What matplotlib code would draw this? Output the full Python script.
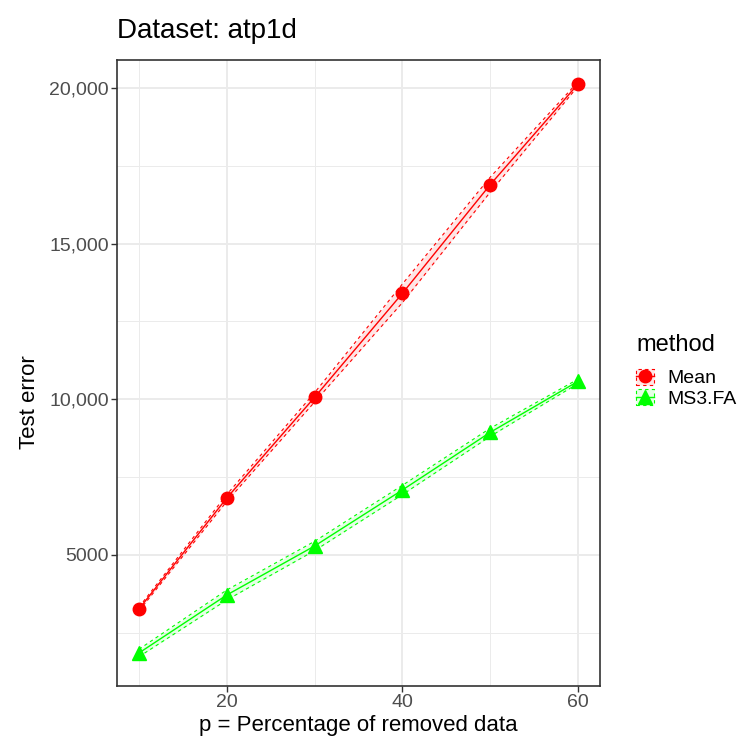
import matplotlib
matplotlib.use("Agg")
import matplotlib.pyplot as plt
from matplotlib.lines import Line2D
from matplotlib.patches import Patch
from matplotlib.ticker import FixedLocator, FuncFormatter
import numpy as np

plt.rcParams['font.family'] = ['Liberation Sans', 'DejaVu Sans']

# Data
p_removed = [10, 20, 30, 40, 50, 60]
mean_err = [3265, 6831, 10064, 13405, 16895, 20128]
mean_sd = [60, 110, 150, 300, 240, 70]
ms3_err = [1852, 3715, 5289, 7088, 8940, 10578]
ms3_sd = [120, 160, 150, 150, 130, 70]
y_ticks = [5000, 10000, 15000, 20000]
y_tick_labels = ['5000', '10,000', '15,000', '20,000']

methods = [
    ('Mean', mean_err, mean_sd, '#FF0000', 'o', 9),
    ('MS3.FA', ms3_err, ms3_sd, '#00FF00', '^', 10),
]

fig = plt.figure(figsize=(7.4, 7.46), dpi=100)
ax = fig.add_axes([117/740, 1 - 686/746, (600-117)/740, (686-60)/746])

x = np.array(p_removed)
handles = []
for name, vals, sd, col, mk, ms in methods:
    vals = np.array(vals)
    sd = np.array(sd)
    ax.fill_between(x, vals - sd, vals + sd, color=col, alpha=0.1, lw=0, zorder=2)
    ax.plot(x, vals - sd, color=col, lw=0.8, ls=(0, (3, 3)), zorder=3)
    ax.plot(x, vals + sd, color=col, lw=0.8, ls=(0, (3, 3)), zorder=3)
    ax.plot(x, vals, color=col, lw=1.0, zorder=4)
    ax.plot(x, vals, ls='none', marker=mk, ms=ms, color=col, mec=col, zorder=5)
    handles.append((Patch(facecolor=matplotlib.colors.to_rgba(col, 0.1),
                          edgecolor=col, ls=(0, (3, 3)), lw=0.8),
                    Line2D([], [], color=col, marker=mk, ms=ms, lw=1.0)))

ax.set_xlim(7.5, 62.5)
ax.set_ylim(792, 20899)

ax.xaxis.set_major_locator(FixedLocator([20, 40, 60]))
ax.xaxis.set_minor_locator(FixedLocator([10, 30, 50]))
ax.yaxis.set_major_locator(FixedLocator(y_ticks))
ax.yaxis.set_minor_locator(FixedLocator([2500, 7500, 12500, 17500]))
ax.yaxis.set_major_formatter(FuncFormatter(lambda v, pos: y_tick_labels[y_ticks.index(int(v))] if int(v) in y_ticks else ''))

ax.grid(which='major', color='#EBEBEB', lw=1.4, zorder=0)
ax.grid(which='minor', color='#EBEBEB', lw=0.7, zorder=0)
ax.set_axisbelow(True)
ax.tick_params(which='major', length=4, width=1, color='#333333',
               labelcolor='#4D4D4D', labelsize=14, pad=2)
ax.tick_params(which='minor', length=0)
for s in ax.spines.values():
    s.set_color('#333333')
    s.set_linewidth(1.2)

ax.set_xlabel('p = Percentage of removed data', fontsize=16, labelpad=3)
ax.set_ylabel('Test error', fontsize=16)
ax.yaxis.set_label_coords((40 - 117) / 483, (686 - 402) / 626)
ax.set_title('Dataset: atp1d', fontsize=20, loc='left', pad=16)

leg = fig.legend(handles, [m[0] for m in methods], title='method',
                 loc='upper left', bbox_to_anchor=(636/740, 1 - 334/746),
                 frameon=False, fontsize=14, title_fontsize=17,
                 handlelength=0.9, handleheight=0.9, handletextpad=0.7,
                 labelspacing=0.1, borderaxespad=0, borderpad=0)
leg._legend_box.align = 'left'
leg._legend_box.sep = 9

fig.savefig('out.png', dpi=100)
